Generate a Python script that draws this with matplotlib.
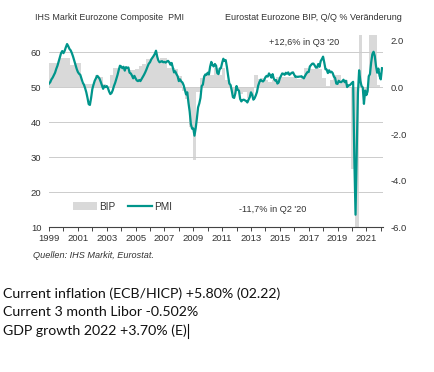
import numpy as np
import matplotlib.pyplot as plt
from matplotlib.patches import Patch
from matplotlib.lines import Line2D

# Eurozone composite PMI, monthly Jan 1999 - Feb 2022
pmi = [
    51.1, 51.5, 52.3, 52.8, 53.5, 54.2, 55.3, 56.2, 57.4, 58.6, 59.8, 60.4,   # 1999
    59.8, 60.5, 61.5, 62.4, 61.8, 61.0, 60.6, 59.8, 58.8, 57.6, 56.4, 55.3,   # 2000
    54.4, 53.9, 53.6, 52.5, 51.4, 50.8, 49.8, 48.6, 47.0, 45.2, 45.0, 47.0,   # 2001
    49.5, 50.8, 51.9, 52.6, 53.3, 53.0, 52.5, 51.6, 50.6, 49.6, 50.4, 50.1,   # 2002
    50.4, 49.8, 48.8, 48.1, 48.4, 49.2, 50.4, 51.3, 52.4, 53.6, 55.0, 56.2,   # 2003
    56.0, 55.5, 55.9, 54.8, 55.8, 55.6, 55.7, 54.2, 54.0, 53.4, 52.6, 53.3,   # 2004
    52.6, 52.0, 51.8, 52.1, 51.8, 52.4, 53.0, 53.6, 54.3, 55.1, 56.0, 56.8,   # 2005
    57.2, 58.0, 58.5, 59.0, 59.6, 60.5, 58.8, 57.6, 57.2, 57.4, 57.5, 57.2,   # 2006
    57.3, 57.1, 57.4, 57.6, 57.2, 56.5, 57.0, 55.7, 54.3, 54.6, 53.8, 53.2,   # 2007
    51.8, 52.3, 51.7, 51.4, 50.6, 49.3, 48.0, 48.6, 45.6, 43.1, 39.5, 38.2,   # 2008
    38.3, 36.2, 38.3, 41.1, 44.3, 45.4, 47.0, 50.4, 50.8, 53.0, 53.7, 53.6,   # 2009
    54.2, 53.7, 55.9, 57.3, 56.4, 56.0, 56.7, 56.2, 54.1, 53.8, 55.4, 55.5,   # 2010
    57.0, 58.2, 57.6, 57.8, 55.8, 53.3, 51.1, 50.7, 49.1, 47.2, 47.0, 48.3,   # 2011
    50.4, 49.3, 49.1, 46.7, 46.0, 46.4, 46.5, 46.3, 46.1, 45.7, 46.5, 47.2,   # 2012
    48.6, 47.9, 46.5, 46.9, 47.7, 48.7, 50.5, 51.5, 52.2, 51.9, 51.7, 52.1,   # 2013
    52.9, 53.3, 53.1, 54.0, 53.5, 52.8, 53.8, 52.5, 52.0, 52.1, 51.1, 51.4,   # 2014
    52.6, 53.3, 54.0, 53.9, 53.6, 54.2, 53.9, 54.3, 53.6, 53.9, 54.2, 54.3,   # 2015
    53.6, 53.0, 53.1, 53.0, 53.1, 53.1, 53.2, 52.9, 52.6, 53.3, 53.9, 54.4,   # 2016
    54.4, 56.0, 56.4, 56.8, 56.8, 56.3, 55.7, 55.7, 56.7, 55.9, 57.5, 58.1,   # 2017
    58.8, 57.1, 55.2, 55.1, 54.1, 54.9, 54.3, 54.5, 54.1, 53.1, 52.7, 51.1,   # 2018
    51.0, 51.9, 51.6, 51.5, 51.8, 52.2, 51.5, 51.9, 50.1, 50.6, 50.6, 50.9,   # 2019
    51.3, 51.6, 29.7, 13.6, 31.9, 48.5, 54.9, 51.9, 50.4, 50.0, 45.3, 49.1,   # 2020
    47.8, 48.8, 53.2, 53.8, 57.1, 59.5, 60.2, 59.0, 56.2, 54.2, 55.4, 53.3,   # 2021
    52.3, 55.5,                                                               # 2022
]

# Eurostat eurozone GDP, q/q % change, 1999Q1 - 2021Q4
bip = [
    1.05, 1.05, 1.05, 1.25,   # 1999
    1.25, 1.25, 0.95, 1.05,   # 2000
    1.05, 0.2, 0.15, 0.15,    # 2001
    0.15, 0.55, 0.45, 0.15,   # 2002
    0.05, 0.55, 0.85, 0.85,   # 2003
    0.85, 0.8, 0.75, 0.75,    # 2004
    0.8, 0.9, 1.0, 1.2,       # 2005
    1.2, 1.4, 1.1, 1.25,      # 2006
    1.25, 0.85, 0.85, 0.8,    # 2007
    0.5, -0.15, -0.5, -1.7,   # 2008
    -3.1, -0.2, 0.4, 0.55,    # 2009
    0.55, 0.55, 0.85, 0.55,   # 2010
    0.85, 0.3, 0.1, -0.3,     # 2011
    -0.1, -0.3, -0.2, -0.45,  # 2012
    -0.35, 0.55, 0.35, 0.4,   # 2013
    0.3, 0.25, 0.3, 0.45,     # 2014
    0.45, 0.45, 0.45, 0.45,   # 2015
    0.5, 0.35, 0.45, 0.85,    # 2016
    0.8, 0.8, 0.85, 0.8,      # 2017
    0.4, 0.05, 0.3, 0.55,     # 2018
    0.55, 0.25, 0.3, 0.0,     # 2019
    -3.5, -11.7, 12.6, -0.15, # 2020
    -0.15, 2.3, 2.3, 0.1,     # 2021
]

year_ticks = list(range(1999, 2022, 2))

teal = '#00958b'
grey = '#d9d9d9'
txt = '#333333'

plt.rcParams['font.family'] = ['Liberation Sans', 'DejaVu Sans']

t_pmi = 1999 + np.arange(len(pmi)) / 12
t_bip = 1999 + np.arange(len(bip)) * 0.25 + 1 / 12

fig = plt.figure(figsize=(4.34, 3.72), dpi=100)
ax = fig.add_axes([0.113, 0.389, 0.770, 0.517])
ax2 = ax.twinx()

ax2.bar(t_bip, bip, width=0.25, color=grey, linewidth=0)
ax2.set_ylim(-6, 2.25)
ax2.set_yticks([-6, -4, -2, 0, 2])
ax2.set_yticklabels([f'{v:.1f}' for v in [-6, -4, -2, 0, 2]])

ax.set_zorder(ax2.get_zorder() + 1)
ax.patch.set_visible(False)
ax.plot(t_pmi, pmi, color=teal, lw=1.6, solid_joinstyle='round')
ax.set_ylim(10, 65)
ax.set_yticks(range(10, 61, 10))
ax.set_xlim(1999, 2022.17)
ax.set_xticks(range(1999, 2023))
ax.set_xticklabels([str(y) if y in year_ticks else '' for y in range(1999, 2023)])
ax.grid(axis='y', color='#cccccc', lw=0.7)
ax.set_axisbelow(True)

for a in (ax, ax2):
    for s in ('top', 'left', 'right'):
        a.spines[s].set_visible(False)
    a.spines['bottom'].set_color('#444444')
    a.spines['bottom'].set_linewidth(0.8)
ax2.spines['bottom'].set_visible(False)
ax.tick_params(axis='y', length=0, labelsize=6.8, labelcolor=txt, pad=5.5)
ax2.tick_params(axis='y', length=0, labelsize=6.8, labelcolor=txt, pad=5)
ax.tick_params(axis='x', length=3, width=0.7, color='#444444', labelsize=6.8, labelcolor=txt, pad=2)

ax.text(2019.15, 62.8, "+12,6% in Q3 '20", fontsize=6.6, color=txt, ha='right', va='center')
ax.text(2016.85, 15.0, "-11,7% in Q2 '20", fontsize=6.6, color=txt, ha='right', va='center')

handles = [Patch(facecolor=grey, edgecolor='none'), Line2D([0], [0], color=teal, lw=1.6)]
ax.legend(handles, ['BIP', 'PMI'], loc='lower left', bbox_to_anchor=(0.045, 0.035), ncol=2,
          frameon=False, fontsize=7.2, handlelength=2.4, handleheight=0.8,
          handletextpad=0.2, columnspacing=1.3, labelcolor=txt)

fig.text(35 / 434, 1 - 17.5 / 372, 'IHS Markit Eurozone Composite  PMI', fontsize=6.4, color=txt,
         va='center')
fig.text(402 / 434, 1 - 17.5 / 372, 'Eurostat Eurozone BIP, Q/Q % Veränderung', fontsize=6.5,
         color=txt, va='center', ha='right')
fig.text(33 / 434, 1 - 255 / 372, 'Quellen: IHS Markit, Eurostat.', fontsize=6.6, color=txt,
         va='center', style='italic')

lines = ['Current inflation (ECB/HICP) +5.80% (02.22)',
         'Current 3 month Libor -0.502%',
         'GDP growth 2022 +3.70% (E)']
last = None
for i, s in enumerate(lines):
    last = fig.text(3 / 434, 1 - (294 + i * 18.5) / 372, s, fontsize=10.2, color='#111111',
                    va='center', family=['Lato', 'DejaVu Sans'])

# text cursor after the last line
fig.canvas.draw()
bb = last.get_window_extent().transformed(fig.transFigure.inverted())
fig.add_artist(Line2D([bb.x1 + 1 / 434, bb.x1 + 1 / 434], [bb.y0 - 1 / 372, bb.y1 + 1 / 372],
                      color='#111111', lw=0.8, transform=fig.transFigure))

fig.savefig('out.png', dpi=100)
